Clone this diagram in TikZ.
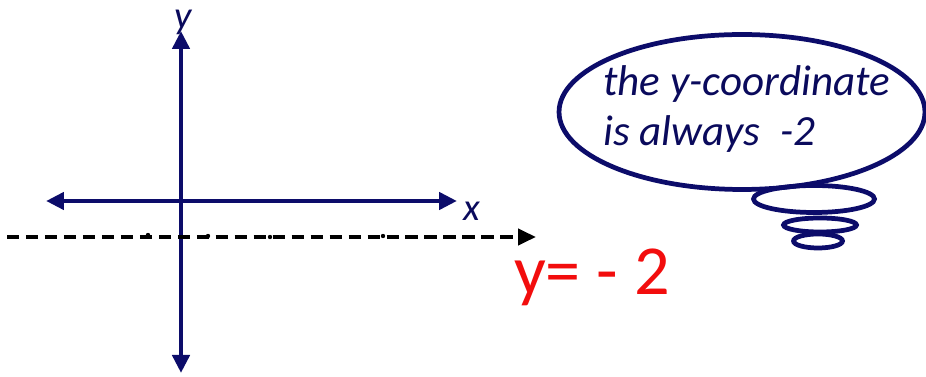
\documentclass[tikz,border=0pt]{standalone}
\usepackage{fontspec}
\setmainfont{Carlito}
\usetikzlibrary{positioning,arrows.meta,shapes.geometric}
\definecolor{axnavy}{HTML}{0C0C6A}
\definecolor{txnavy}{HTML}{0A0A5C}
\definecolor{hwred}{HTML}{F20D0D}
\tikzset{
  axis/.style   ={draw=axnavy, line width=2.8pt,
                  {Triangle[length=3.6mm,width=3.4mm]}-{Triangle[length=3.6mm,width=3.4mm]}},
  level/.style  ={draw=black, line width=2.3pt, dash pattern=on 7pt off 3.8pt,
                  -{Triangle[length=3.6mm,width=3.2mm]}},
  bubble/.style ={ellipse, draw=axnavy, line width=2.7pt, inner sep=0pt},
  axlabel/.style={font=\fontsize{22}{24}\selectfont\itshape, text=txnavy, inner sep=0pt},
  thought/.style={font=\fontsize{24.5}{28.5}\selectfont\itshape, text=txnavy,
                  align=left, inner sep=0pt, anchor=north west},
  speck/.style  ={circle, fill=black, minimum size=2.5pt, inner sep=0pt},
}
\newcommand{\bub}[4]{%
  \node[bubble, minimum width=#3, minimum height=#4] (#1) at #2 {};}

\begin{document}
\begin{tikzpicture}[x=0.02cm, y=-0.02cm]
    \useasboundingbox (0,0) rectangle (926,377);
    % axes
    \coordinate (ytop) at (181,31);
    \coordinate (ybot) at (181,373);
    \coordinate (xlft) at (46,201);
    \coordinate (xrgt) at (457,201);
    \draw[axis] (ybot) -- (ytop);
    \draw[axis] (xlft) -- (xrgt);
    \node[axlabel, anchor=base] (ylab) at (183,29) {y};
    \node[axlabel] (xlab) at (472,211) {x};
    % the line y = -2
    \coordinate (lvlA) at (7,237);
    \coordinate (lvlB) at (536,237);
    \draw[level] (lvlA) -- (lvlB);
    \foreach \s [count=\i] in {(148,235),(208,236),(270,237),(383,236)}
        \node[speck] (sp\i) at \s {};
    \node[font=\fontsize{40}{40}\selectfont, text=hwred, inner sep=0pt]
        (eqn) at (592,277) {y= - 2};
    % thought bubble
    \bub{cloud}{(742,112)}{7.32cm}{3.1cm}
    \bub{puffA}{(814,199)}{2.42cm}{0.54cm}
    \bub{puffB}{(820,225)}{1.46cm}{0.28cm}
    \bub{puffC}{(818,241)}{0.98cm}{0.28cm}
    \node[thought] (says) at (603,65) {the y-coordinate\\is always\ \ -2};
\end{tikzpicture}
\end{document}
